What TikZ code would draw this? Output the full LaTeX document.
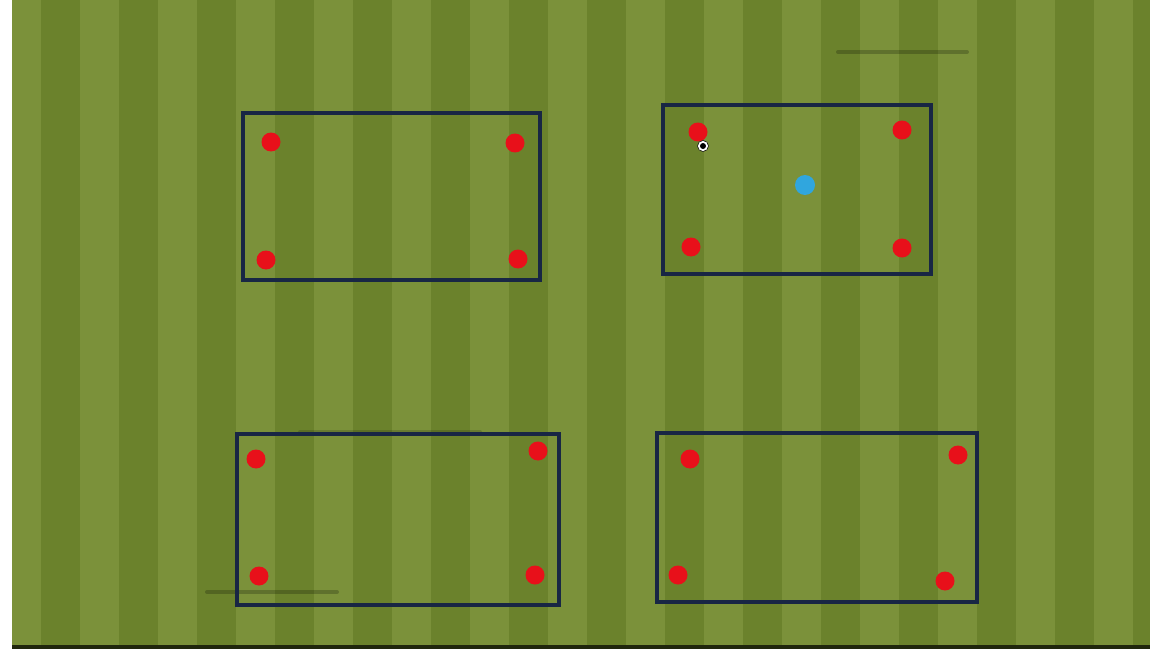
\documentclass[tikz,border=0pt]{standalone}
\usetikzlibrary{calc}
\definecolor{grasslight}{RGB}{123,145,58}
\definecolor{grassdark}{RGB}{107,130,44}
\definecolor{boxline}{RGB}{24,38,68}
\definecolor{conered}{RGB}{232,16,26}
\definecolor{playerblue}{RGB}{48,166,222}
\tikzset{
  gridbox/.style={draw=boxline,line width=0.065cm},
  cone/.style={circle,fill=conered,inner sep=0pt,minimum size=0.38cm},
  player/.style={circle,fill=playerblue,inner sep=0pt,minimum size=0.4cm},
  ball/.style={circle,fill=white,draw=black,line width=0.3pt,inner sep=0pt,minimum size=0.22cm},
  smudge/.style={line width=0.08cm,black,opacity=0.22,line cap=round}
}

\begin{document}
\begin{tikzpicture}[x=0.02cm,y=-0.02cm]
\useasboundingbox (0,0) rectangle (1150,649);
\fill[white] (0,0) rectangle (1150,649);
% pitch stripes
\fill[grasslight] (12,0) rectangle (1150,645);
\foreach \k in {0,...,14}{
  \fill[grassdark] ({41+78*\k},0) rectangle ({min(80+78*\k,1150)},645);
}
\fill[black!70!grassdark] (12,645) rectangle (1150,649);
% faint marks
\draw[smudge] (838,52) -- (967,52);
\draw[smudge] (207,592) -- (337,592);
\draw[smudge,opacity=0.15] (300,432) -- (480,432);
% grids
\foreach \name/\xa/\ya/\xb/\yb in {A/243/113/540/280,B/663/105/931/274,C/237/434/559/605,D/657/433/977/602}{
  \draw[gridbox] (\xa,\ya) rectangle (\xb,\yb);
}
% cones
\foreach \name/\x/\y in {A1/271/142,A2/515/143,A3/266/260,A4/518/259,
  B1/698/132,B2/902/130,B3/691/247,B4/902/248,
  C1/256/459,C2/538/451,C3/259/576,C4/535/575,
  D1/690/459,D2/958/455,D3/678/575,D4/945/581}{
  \node[cone] (cone\name) at (\x,\y) {};
}
% player and ball
\node[player] (player) at (805,185) {};
\node[ball] (ball) at (703,146) {};
\fill[black] (ball.center) circle (0.06cm);
\end{tikzpicture}
\end{document}
